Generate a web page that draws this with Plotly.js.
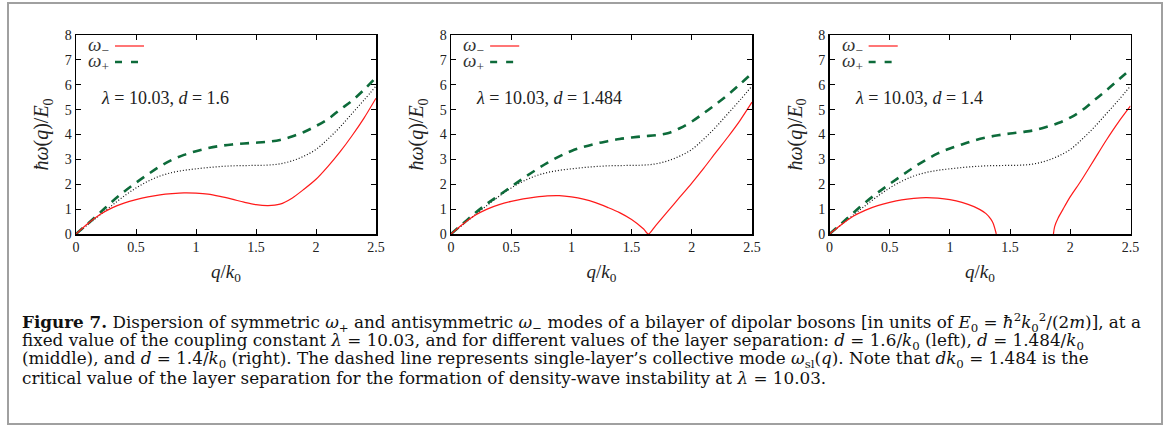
<!DOCTYPE html>
<html><head><meta charset="utf-8">
<script src="https://cdn.plot.ly/plotly-3.0.1.min.js"></script>
<style>html,body{margin:0;padding:0;background:#fff;}#plot{width:1167px;height:428px;}</style>
</head><body><div id="plot"></div>
<script>
// ---- data ----
const qGrid = [0,0.1,0.2,0.3,0.4,0.5,0.6,0.7,0.8,0.9,1.0,1.1,1.2,1.3,1.4,1.5,1.6,1.7,1.8,1.9,2.0,2.1,2.2,2.3,2.4,2.5];
// single-layer collective mode (same in all panels)
const omegaSL = [0,0.38,0.77,1.15,1.52,1.85,2.12,2.33,2.47,2.56,2.62,2.67,2.71,2.74,2.75,2.76,2.77,2.82,2.94,3.13,3.40,3.82,4.30,4.84,5.38,5.95];

// panel 1: d = 1.6
const plus1  = [0,0.42,0.86,1.30,1.70,2.06,2.40,2.72,2.98,3.18,3.33,3.45,3.54,3.60,3.64,3.67,3.71,3.78,3.92,4.10,4.34,4.62,5.00,5.36,5.80,6.30];
const qMinus1 = [0,0.1,0.2,0.3,0.4,0.5,0.6,0.7,0.8,0.9,1.0,1.1,1.2,1.3,1.4,1.5,1.6,1.7,1.8,1.9,2.0,2.1,2.2,2.3,2.4,2.5];
const minus1 = [0,0.42,0.78,1.05,1.24,1.38,1.49,1.57,1.62,1.65,1.64,1.60,1.51,1.40,1.28,1.18,1.14,1.20,1.44,1.80,2.20,2.72,3.30,3.95,4.66,5.46];

// panel 2: d = 1.484
const plus2  = [0,0.42,0.84,1.22,1.56,1.90,2.24,2.56,2.86,3.12,3.34,3.50,3.63,3.73,3.82,3.88,3.93,3.97,4.05,4.25,4.52,4.86,5.22,5.60,6.02,6.46];
const qMinus2 = [0,0.1,0.2,0.3,0.4,0.5,0.6,0.7,0.8,0.9,1.0,1.1,1.2,1.3,1.4,1.5,1.6,1.64,1.7,1.8,1.9,2.0,2.1,2.2,2.3,2.4,2.5];
const minus2 = [0,0.40,0.75,1.00,1.18,1.31,1.41,1.48,1.53,1.54,1.49,1.40,1.26,1.07,0.86,0.58,0.20,0,0.34,0.91,1.48,2.05,2.65,3.28,3.90,4.56,5.30];

// panel 3: d = 1.4
const plus3  = [0,0.42,0.86,1.28,1.66,2.01,2.35,2.68,2.98,3.24,3.44,3.60,3.76,3.88,3.97,4.04,4.10,4.17,4.30,4.46,4.68,4.98,5.38,5.78,6.20,6.62];
const qMinus3 = [0,0.1,0.2,0.3,0.4,0.5,0.6,0.7,0.8,0.9,1.0,1.1,1.2,1.25,1.3,1.34,1.36,1.38,1.385,null,1.86,1.87,1.9,1.94,2.0,2.07,2.1,2.2,2.3,2.4,2.5];
const minus3 = [0,0.38,0.72,0.96,1.14,1.27,1.37,1.43,1.46,1.44,1.38,1.27,1.10,0.98,0.82,0.60,0.42,0.10,0,null,0,0.30,0.65,1.00,1.50,2.00,2.22,3.00,3.78,4.50,5.15];

const panelLabels = ['<i>λ</i> = 10.03, <i>d</i> = 1.6', '<i>λ</i> = 10.03, <i>d</i> = 1.484', '<i>λ</i> = 10.03, <i>d</i> = 1.4'];
const xTickVals = [0,0.5,1,1.5,2,2.5];
const xTickText = ['0','0.5','1','1.5','2','2.5'];
const yTickVals = [0,1,2,3,4,5,6,7,8];
const yTickText = ['0','1','2','3','4','5','6','7','8'];
const legendNames = ['<i>ω</i><sub>−</sub>', '<i>ω</i><sub>+</sub>'];
const captionLines = [
  '<b>Figure 7.</b> Dispersion of symmetric <i>ω</i><sub>+</sub> and antisymmetric <i>ω</i><sub>−</sub> modes of a bilayer of dipolar bosons [in units of <i>E</i><sub>0</sub> = <i>ħ</i><sup>2</sup><i>k</i><sub>0</sub><sup>2</sup>/(2<i>m</i>)], at a',
  'fixed value of the coupling constant <i>λ</i> = 10.03, and for different values of the layer separation: <i>d</i> = 1.6/<i>k</i><sub>0</sub> (left), <i>d</i> = 1.484/<i>k</i><sub>0</sub>',
  '(middle), and <i>d</i> = 1.4/<i>k</i><sub>0</sub> (right). The dashed line represents single-layer’s collective mode <i>ω</i><sub>sl</sub>(<i>q</i>). Note that <i>dk</i><sub>0</sub> = 1.484 is the',
  'critical value of the layer separation for the formation of density-wave instability at <i>λ</i> = 10.03.'
];

// ---- styles ----
const W = 1167, H = 428;
const RED = '#ff1a1a', GREEN = '#0d6b3a';
const serif = 'Liberation Serif, Times New Roman, serif';
const capSerif = 'DejaVu Serif, serif';
const xDomains = [[76/W, 376/W],[451/W, 752/W],[829.5/W, 1130.5/W]];
const yDomain = [1-234/H, 1-35/H];

const panels = [
  {qm: qMinus1, wm: minus1, wp: plus1},
  {qm: qMinus2, wm: minus2, wp: plus2},
  {qm: qMinus3, wm: minus3, wp: plus3}
];

const traces = [];
const layout = {
  width: W, height: H,
  margin: {l:0, r:0, t:0, b:0},
  paper_bgcolor: '#fff', plot_bgcolor: '#fff',
  showlegend: false,
  font: {family: serif, color: '#222'},
  annotations: [], shapes: []
};

panels.forEach((p, i) => {
  const n = i === 0 ? '' : String(i+1);
  const xa = 'x' + n, ya = 'y' + n;
  traces.push({x: qGrid, y: omegaSL, xaxis: xa, yaxis: ya, mode: 'lines',
    line: {color: '#111', width: 1.2, dash: '1px,2px', shape: 'spline'}, hoverinfo: 'skip'});
  traces.push({x: qGrid, y: p.wp, xaxis: xa, yaxis: ya, mode: 'lines', name: 'ω+',
    line: {color: GREEN, width: 2.6, dash: '9px,7px', shape: 'spline'}});
  traces.push({x: p.qm, y: p.wm, xaxis: xa, yaxis: ya, mode: 'lines', name: 'ω−', connectgaps: false,
    line: {color: RED, width: 1.2, shape: 'spline', smoothing: 0.8}});

  const common = {showline: true, linecolor: '#000', linewidth: 1.5, mirror: 'allticks',
    ticks: 'inside', ticklen: 5, tickwidth: 1, tickcolor: '#000', showgrid: false, zeroline: false,
    tickfont: {family: serif, size: 14, color: '#222'}, fixedrange: true};
  layout['xaxis' + n] = Object.assign({}, common, {
    domain: xDomains[i], range: [0, 2.5], anchor: ya,
    tickmode: 'array', tickvals: xTickVals, ticktext: xTickText,
    title: {text: '<i>q</i>/<i>k</i><sub>0</sub>', font: {family: serif, size: 19, color: '#222'}, standoff: 10}
  });
  layout['yaxis' + n] = Object.assign({}, common, {
    domain: yDomain, range: [0, 8], anchor: xa,
    tickmode: 'array', tickvals: yTickVals, ticktext: yTickText,
    title: {text: '<i>ħω</i>(<i>q</i>)/<i>E</i><sub>0</sub>', font: {family: serif, size: 20, color: '#222'}, standoff: 10}
  });

  // panel label
  layout.annotations.push({xref: xa + ' domain', yref: ya + ' domain', x: 23/300, y: (234-98)/199,
    xanchor: 'left', yanchor: 'middle', showarrow: false, text: panelLabels[i],
    font: {family: serif, size: 18, color: '#222'}});
  // legend (gnuplot style: text then sample)
  const ly = [(234-46)/199, (234-62)/199];
  legendNames.forEach((t, k) => {
    layout.annotations.push({xref: xa + ' domain', yref: ya + ' domain', x: 10/300, y: ly[k],
      xanchor: 'left', yanchor: 'middle', showarrow: false, text: t,
      font: {family: serif, size: 19, color: '#333'}});
    layout.shapes.push({type: 'line', xref: xa + ' domain', yref: ya + ' domain',
      x0: 39/300, x1: 68/300, y0: ly[k], y1: ly[k],
      line: k === 0 ? {color: RED, width: 1.2} : {color: GREEN, width: 2.6, dash: '7px,9px'}});
  });
});

// caption
const capY = [322, 341, 359.5, 378];
captionLines.forEach((t, k) => {
  layout.annotations.push({xref: 'paper', yref: 'paper', x: 20/W, y: 1 - capY[k]/H,
    xanchor: 'left', yanchor: 'middle', showarrow: false, text: t, align: 'left',
    font: {family: capSerif, size: 16.8, color: '#111'}});
});
// frame around figure
layout.shapes.push({type: 'rect', xref: 'paper', yref: 'paper', x0: 8/W, x1: 1162/W, y0: 1-424/H, y1: 1-3/H,
  line: {color: '#a0a0a0', width: 2}});

Plotly.newPlot('plot', traces, layout, {staticPlot: true, displayModeBar: false});
</script></body></html>
